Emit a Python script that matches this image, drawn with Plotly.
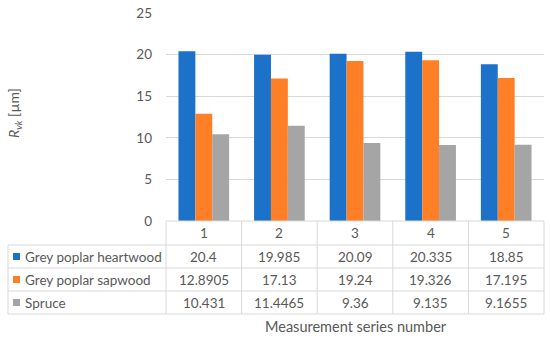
import plotly.graph_objects as go

categories = ["1", "2", "3", "4", "5"]
series_names = ["Grey poplar heartwood", "Grey poplar sapwood", "Spruce"]
heartwood = [20.4, 19.985, 20.09, 20.335, 18.85]
sapwood = [12.8905, 17.13, 19.24, 19.326, 17.195]
spruce = [10.431, 11.4465, 9.36, 9.135, 9.1655]
heartwood_txt = ["20.4", "19.985", "20.09", "20.335", "18.85"]
sapwood_txt = ["12.8905", "17.13", "19.24", "19.326", "17.195"]
spruce_txt = ["10.431", "11.4465", "9.36", "9.135", "9.1655"]
y_ticks = [0, 5, 10, 15, 20, 25]

colors = ["#1B72C8", "#FF7F27", "#A5A5A5"]
values = [heartwood, sapwood, spruce]
texts = [heartwood_txt, sapwood_txt, spruce_txt]

W, H = 550, 338
L, R, T, B = 166, 544, 13, 221
FONT = "Lato"
TXT = "#595959"
GRID = "#D9D9D9"

def px(x):
    return (x - L) / (R - L)

def py(y):
    return (B - y) / (B - T)

fig = go.Figure()
for name, vals, c in zip(series_names, values, colors):
    fig.add_trace(go.Bar(x=categories, y=vals, name=name, marker_color=c,
                         marker_line_width=0, showlegend=False))

shapes = []
annotations = []
row_edges = [221, 245, 268, 291, 314]
col_edges = [L + i * (R - L) / 5 for i in range(6)]
shapes.append(dict(type="line", xref="paper", yref="paper", x0=px(L), x1=px(R),
                   y0=py(row_edges[0]), y1=py(row_edges[0]), line=dict(color=GRID, width=1)))
for ry in row_edges[1:]:
    shapes.append(dict(type="line", xref="paper", yref="paper", x0=px(8), x1=px(R),
                       y0=py(ry), y1=py(ry), line=dict(color=GRID, width=1)))
for cx in col_edges:
    shapes.append(dict(type="line", xref="paper", yref="paper", x0=px(cx), x1=px(cx),
                       y0=py(row_edges[0]), y1=py(row_edges[-1]), line=dict(color=GRID, width=1)))
shapes.append(dict(type="line", xref="paper", yref="paper", x0=px(8), x1=px(8),
                   y0=py(row_edges[1]), y1=py(row_edges[-1]), line=dict(color=GRID, width=1)))

fs = 13.5
for i, cat in enumerate(categories):
    annotations.append(dict(x=i, xref="x", y=py((row_edges[0] + row_edges[1]) / 2), yref="paper",
                            text=cat, showarrow=False, xanchor="center", yanchor="middle",
                            font=dict(family=FONT, size=fs, color=TXT)))
for r, (name, txts, c) in enumerate(zip(series_names, texts, colors)):
    yc = py((row_edges[r + 1] + row_edges[r + 2]) / 2)
    shapes.append(dict(type="rect", xref="paper", yref="paper", x0=px(13), x1=px(20),
                       y0=yc - 3.5 / (B - T), y1=yc + 3.5 / (B - T), fillcolor=c, line=dict(width=0)))
    annotations.append(dict(x=px(23), xref="paper", y=yc, yref="paper", text=name,
                            xanchor="left", yanchor="middle", showarrow=False,
                            font=dict(family=FONT, size=fs, color=TXT)))
    for i, t in enumerate(txts):
        annotations.append(dict(x=i, xref="x", y=yc, yref="paper", text=t, showarrow=False,
                                xanchor="center", yanchor="middle",
                                font=dict(family=FONT, size=fs, color=TXT)))

annotations.append(dict(x=px(356), xref="paper", y=py(326), yref="paper",
                        text="Measurement series number", showarrow=False,
                        xanchor="center", yanchor="middle",
                        font=dict(family=FONT, size=14.5, color=TXT)))
annotations.append(dict(x=px(15), xref="paper", y=py(113), yref="paper",
                        text="<i>R<sub>vk</sub></i> [µm]", showarrow=False, textangle=-90,
                        xanchor="center", yanchor="middle",
                        font=dict(family=FONT, size=14, color=TXT)))

fig.update_layout(
    width=W, height=H,
    margin=dict(l=L, r=W - R, t=T, b=H - B, autoexpand=False),
    paper_bgcolor="white", plot_bgcolor="white",
    barmode="group", bargap=0.33, bargroupgap=0,
    shapes=shapes, annotations=annotations,
    font=dict(family=FONT, color=TXT),
    xaxis=dict(type="category", range=[-0.5, 4.5], showticklabels=False, showgrid=False,
               zeroline=False, showline=False, ticks="", automargin=False),
    yaxis=dict(range=[0, 25], tickvals=y_ticks, showgrid=True, gridcolor=GRID, gridwidth=1,
               zeroline=False, showline=False, ticks="", ticklabelstandoff=13, automargin=False,
               tickfont=dict(family=FONT, size=13.5, color=TXT)),
)

fig.write_html("out.html", config={"displayModeBar": False},
               post_script="document.body.style.margin='0';")
